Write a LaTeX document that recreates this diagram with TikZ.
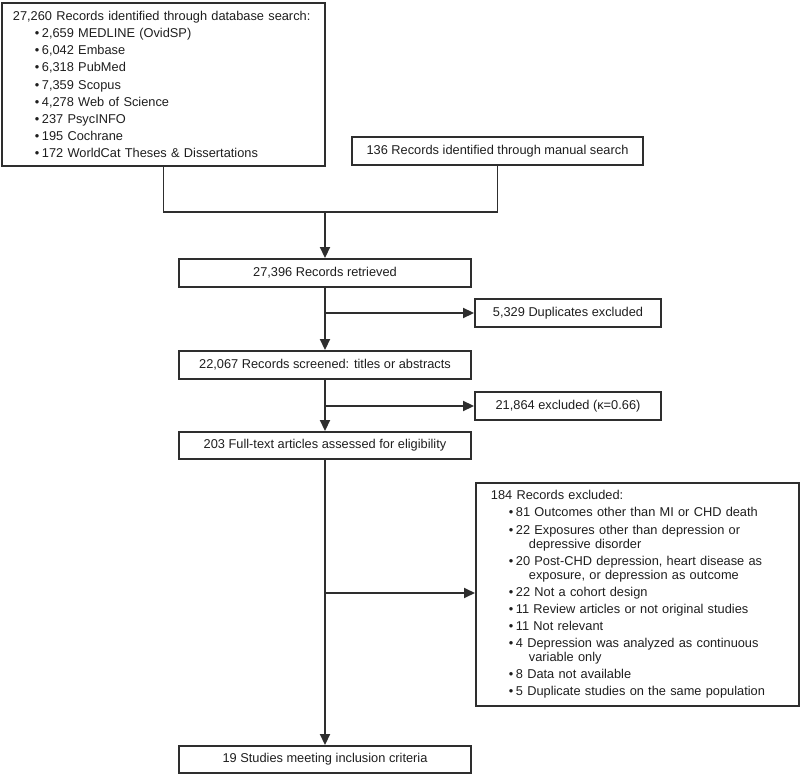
\documentclass[tikz,border=0pt]{standalone}
\usepackage{fontspec}
\setmainfont{Liberation Sans}
\usetikzlibrary{arrows.meta, positioning}

\definecolor{linegray}{HTML}{2E2E2E}
\definecolor{textgray}{HTML}{1E1E1E}
\newcommand{\bul}{\textbullet\hspace{2.5pt}}

\begin{document}
\begin{tikzpicture}[x=1pt, y=-1pt, node distance=92pt, on grid,
        box/.style={draw=linegray, line width=1.9pt, text=textgray, minimum height=28pt,
            inner sep=0pt, font=\fontsize{12.8}{14}\selectfont},
        flow/.style={box, minimum width=292pt},
        side/.style={box, minimum width=186pt},
        list/.style={box, anchor=north west, align=left},
        line/.style={draw=linegray, line width=1.8pt},
        arr/.style={line, -{Triangle[length=11pt,width=10pt]}}]
        \useasboundingbox (0,0) rectangle (800,775);

        % sources
        \node[list, inner xsep=11pt, text width=301pt, minimum height=163pt] (db) at (1,2)
            {27,260 Records identified through database search:\\[3.1pt]
            \hspace*{22pt}\bul 2,659 MEDLINE (OvidSP)\\[3.1pt]
            \hspace*{22pt}\bul 6,042 Embase\\[3.1pt]
            \hspace*{22pt}\bul 6,318 PubMed\\[3.1pt]
            \hspace*{22pt}\bul 7,359 Scopus\\[3.1pt]
            \hspace*{22pt}\bul 4,278 Web of Science\\[3.1pt]
            \hspace*{22pt}\bul 237 PsycINFO\\[3.1pt]
            \hspace*{22pt}\bul 195 Cochrane\\[3.1pt]
            \hspace*{22pt}\bul 172 WorldCat Theses \& Dissertations};
        \node[box, minimum width=291pt] (manual) at (497.5,151) {136 Records identified through manual search};
        \coordinate (merge) at (325,212);

        % main column
        \node[flow] (retrieved) at (325,273) {27,396 Records retrieved};
        \node[flow] (screened) [below=of retrieved] {22,067 Records screened: titles or abstracts};
        \node[flow, minimum height=27pt] (fulltext) [below=80.5pt of screened] {203 Full-text articles assessed for eligibility};
        \node[flow, minimum height=27pt] (final) [below=314pt of fulltext] {19 Studies meeting inclusion criteria};

        % exclusions
        \node[side] (dup) at (568,313) {5,329 Duplicates excluded};
        \node[side] (excl) at (568,406) {21,864 excluded (κ=0.66)};
        \node[list, inner xsep=15pt, text width=293pt, minimum height=223pt] (reasons) at (475,482)
            {184 Records excluded:\\[3.1pt]
            \hspace*{18pt}\bul 81 Outcomes other than MI or CHD death\\[3.1pt]
            \hspace*{18pt}\bul 22 Exposures other than depression or\\
            \hspace*{38pt}depressive disorder\\[3.1pt]
            \hspace*{18pt}\bul 20 Post-CHD depression, heart disease as\\
            \hspace*{38pt}exposure, or depression as outcome\\[3.1pt]
            \hspace*{18pt}\bul 22 Not a cohort design\\[3.1pt]
            \hspace*{18pt}\bul 11 Review articles or not original studies\\[3.1pt]
            \hspace*{18pt}\bul 11 Not relevant\\[3.1pt]
            \hspace*{18pt}\bul 4 Depression was analyzed as continuous\\
            \hspace*{38pt}variable only\\[3.1pt]
            \hspace*{18pt}\bul 8 Data not available\\[3.1pt]
            \hspace*{18pt}\bul 5 Duplicate studies on the same population};

        \coordinate (b1) at (retrieved.south |- dup.west);
        \coordinate (b2) at (screened.south |- excl.west);
        \coordinate (b3) at (fulltext.south |- 0,593);

        \draw[line] (db.south) |- (merge) -| (manual.south);
        \draw[arr] (merge) -- (retrieved);
        \draw[arr] (retrieved) -- (screened);
        \draw[arr] (b1) -- (dup);
        \draw[arr] (screened) -- (fulltext);
        \draw[arr] (b2) -- (excl);
        \draw[arr] (fulltext) -- (final);
        \draw[arr] (b3) -- (b3 -| reasons.west);
    \end{tikzpicture}
\end{document}
